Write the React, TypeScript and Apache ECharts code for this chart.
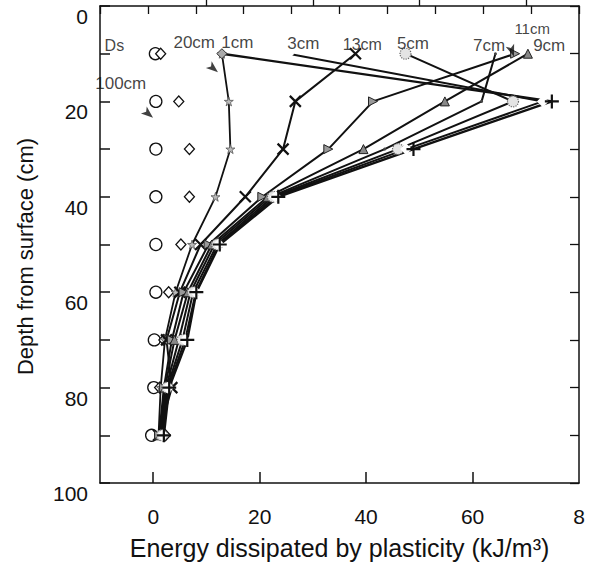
import React, { useEffect, useRef } from "react";
import * as echarts from "echarts";

// Depth rows (cm from surface)
const depths = [10, 20, 30, 40, 50, 60, 70, 80, 90];

// Energy dissipated by plasticity (kJ/m3) at each depth, per Ds
const refCircles = [0.4, 0.5, 0.5, 0.5, 0.5, 0.5, 0.2, 0.1, -0.3];
const ds100 = [1.4, 4.8, 6.8, 6.8, 5.2, 2.9, 2.0, 1.2, 2.3];
const ds20 = [12.9, 14.2, 14.5, 11.7, 7.3, 4.2, 2.2, 1.4, 1.0];
const ds1 = [12.9, 74.9, 48.9, 23.5, 12.5, 8.1, 6.4, 3.0, 2.0];
const ds3 = [25.4, 73.2, 47.5, 23.0, 12.3, 8.0, 6.0, 2.8, 1.8];
const ds5 = [47.4, 67.6, 46.0, 22.5, 12.0, 7.5, 5.5, 2.6, 1.6];
const ds7 = [64.3, 61.7, 43.5, 22.0, 11.5, 7.0, 4.8, 2.4, 1.4];
const ds9 = [70.4, 54.8, 39.5, 21.5, 11.0, 6.5, 4.0, 2.2, 1.2];
const ds11 = [68.0, 41.3, 32.9, 20.5, 10.4, 5.7, 3.5, 2.0, 1.1];
const ds13 = [38.0, 26.7, 24.4, 17.3, 8.9, 5.0, 2.5, 3.5, 1.0];

// Tick labels
const xMajorTicks = [0, 20, 40, 60, 80];
const xMinorTicks = [10, 30, 50, 70];

// In-plot annotations (data coordinates)
const annotations = [
  { text: "Ds", x: -7.3, y: 8.3, size: 16 },
  { text: "20cm", x: 7.7, y: 7.7, size: 17 },
  { text: "1cm", x: 15.8, y: 7.7, size: 17 },
  { text: "3cm", x: 28.2, y: 7.9, size: 17 },
  { text: "13cm", x: 39.3, y: 8.1, size: 16 },
  { text: "5cm", x: 48.8, y: 7.9, size: 17 },
  { text: "7cm", x: 63.1, y: 8.3, size: 17 },
  { text: "11cm", x: 71.2, y: 4.7, size: 15 },
  { text: "9cm", x: 74.4, y: 8.3, size: 17 },
  { text: "100cm", x: -6.1, y: 16.2, size: 17 },
];
const arrows = [
  { x: 11.3, y: 13.1, rot: -40 },
  { x: -0.9, y: 22.6, rot: -40 },
  { x: 67.4, y: 9.4, rot: -70 },
];

const toPairs = (vals: number[]) => vals.map((v, i) => [v, depths[i]]);

const STAR = "path://M50,0L61,35L98,35L68,57L79,91L50,70L21,91L32,57L2,35L39,35Z";
const CROSS = "path://M0,0L10,10M10,0L0,10";
const PLUS = "path://M5,0L5,10M0,5L10,5";
const ARROW = "path://M0,0L12,5L0,10L3,5Z";

export default function App() {
  const ref = useRef<HTMLDivElement>(null);
  useEffect(() => {
    if (!ref.current) return;
    const chart = echarts.init(ref.current, undefined, { renderer: "svg" });
    const font = "Liberation Sans, Arial, sans-serif";
    const lineSeries = (
      name: string,
      vals: number[],
      symbol: string,
      symbolSize: number | number[],
      item: any,
      width: number,
      extra: any = {}
    ) => ({
      type: "line",
      name,
      data: toPairs(vals),
      symbol,
      symbolSize,
      showSymbol: true,
      showAllSymbol: true,
      lineStyle: { color: "#111", width },
      itemStyle: item,
      z: 3,
      ...extra,
    });
    const scatterSeries = (name: string, vals: number[], symbol: string, symbolSize: number | number[]) => ({
      type: "scatter",
      name,
      data: toPairs(vals),
      symbol,
      symbolSize,
      itemStyle: { color: "#fff", borderColor: "#111", borderWidth: 1.3, opacity: 1 },
      z: 2,
    });

    const ds1Data: any[] = toPairs(ds1).map((p, i) =>
      i === 0
        ? { value: p, symbol: "diamond", symbolSize: 10, itemStyle: { color: "#aaa", borderColor: "#333", borderWidth: 1 } }
        : p
    );

    const option: any = {
      animation: false,
      backgroundColor: "#fff",
      grid: { left: 100, right: 11, top: 6, bottom: 81, containLabel: false },
      xAxis: [
        {
          type: "value",
          min: -10,
          max: 80,
          interval: 10,
          position: "bottom",
          name: "Energy dissipated by plasticity (kJ/m³)",
          nameLocation: "middle",
          nameGap: 52,
          nameTextStyle: { fontFamily: font, fontSize: 25, color: "#111" },
          axisLine: { show: true, onZero: false, lineStyle: { color: "#111", width: 1.5 } },
          axisTick: { show: true, inside: true, length: 11, customValues: [0, 20, 40, 60], lineStyle: { color: "#111", width: 1.5 } },
          axisLabel: {
            customValues: xMajorTicks,
            formatter: (v: number) => (v === 80 ? "8" : String(v)),
            fontFamily: font,
            fontSize: 21,
            color: "#111",
            margin: 23,
          },
          splitLine: { show: false },
        },
        {
          type: "value",
          min: -10,
          max: 80,
          interval: 10,
          position: "bottom",
          axisLine: { show: false },
          axisTick: { show: true, inside: true, length: 6, customValues: xMinorTicks, lineStyle: { color: "#111", width: 1.3 } },
          axisLabel: { show: false },
          splitLine: { show: false },
        },
        {
          type: "value",
          min: 0,
          max: 10,
          interval: 1,
          position: "top",
          axisLine: { show: true, onZero: false, lineStyle: { color: "#111", width: 1.5 } },
          axisTick: { show: true, inside: true, length: 8, lineStyle: { color: "#111", width: 1.3 } },
          axisLabel: { show: false },
          splitLine: { show: false },
        },
      ],
      yAxis: [
        {
          type: "value",
          min: 0,
          max: 100,
          interval: 10,
          inverse: true,
          position: "left",
          name: "Depth from surface (cm)",
          nameLocation: "middle",
          nameGap: 64,
          nameTextStyle: { fontFamily: font, fontSize: 22, color: "#111", padding: [0, 24, 0, 0] },
          axisLine: { show: true, onZero: false, lineStyle: { color: "#111", width: 1.5 } },
          axisTick: { show: true, inside: true, length: 10, lineStyle: { color: "#111", width: 1.5 } },
          axisLabel: {
            formatter: (v: number) => (v % 20 === 0 ? String(v) : ""),
            fontFamily: font,
            fontSize: 21,
            color: "#111",
            margin: 12,
            verticalAlign: "top",
          },
          splitLine: { show: false },
        },
        {
          type: "value",
          min: 0,
          max: 100,
          interval: 10,
          inverse: true,
          position: "right",
          axisLine: { show: true, onZero: false, lineStyle: { color: "#111", width: 1.5 } },
          axisTick: { show: true, inside: true, length: 9, lineStyle: { color: "#111", width: 1.3 } },
          axisLabel: { show: false },
          splitLine: { show: false },
        },
      ],
      series: [
        scatterSeries("ref", refCircles, "circle", 12),
        scatterSeries("100cm", ds100, "diamond", [10, 11]),
        lineSeries("20cm", ds20, STAR, 9, { color: "#bbb", borderColor: "#555", borderWidth: 0.8 }, 1.8),
        lineSeries("13cm", ds13, CROSS, 11, { color: "none", borderColor: "#111", borderWidth: 2.2 }, 2),
        lineSeries("11cm", ds11, "triangle", 9, { color: "#999", borderColor: "#222", borderWidth: 1 }, 2, { symbolRotate: -90 }),
        lineSeries("9cm", ds9, "triangle", 9, { color: "#888", borderColor: "#222", borderWidth: 1 }, 2),
        lineSeries("7cm", ds7, "circle", 3, { color: "#444" }, 2),
        lineSeries("5cm", ds5, "circle", 11, { color: "#e4e4e4", borderColor: "#666", borderWidth: 1.2, borderType: "dotted" }, 2),
        lineSeries("3cm", ds3, "emptyDiamond", 9, { color: "#fff", borderColor: "#333", borderWidth: 1.2 }, 2),
        { ...lineSeries("1cm", ds1, PLUS, 14, { color: "none", borderColor: "#111", borderWidth: 2.2 }, 2.4), data: ds1Data },
        {
          type: "scatter",
          name: "labels",
          silent: true,
          symbolSize: 0,
          z: 10,
          data: annotations.map((a) => ({
            value: [a.x, a.y],
            label: {
              show: true,
              position: "inside",
              formatter: a.text,
              fontFamily: font,
              fontSize: a.size,
              color: "#111",
            },
          })),
        },
        {
          type: "scatter",
          name: "arrows",
          silent: true,
          z: 10,
          data: arrows.map((a) => ({
            value: [a.x, a.y],
            symbol: ARROW,
            symbolSize: [12, 9],
            symbolRotate: a.rot,
            itemStyle: { color: "#111" },
          })),
        },
      ],
    };
    chart.setOption(option);
    return () => chart.dispose();
  }, []);
  return (
    <div
      ref={ref}
      style={{ position: "fixed", left: 0, top: 0, width: 590, height: 565, background: "#fff" }}
    />
  );
}
